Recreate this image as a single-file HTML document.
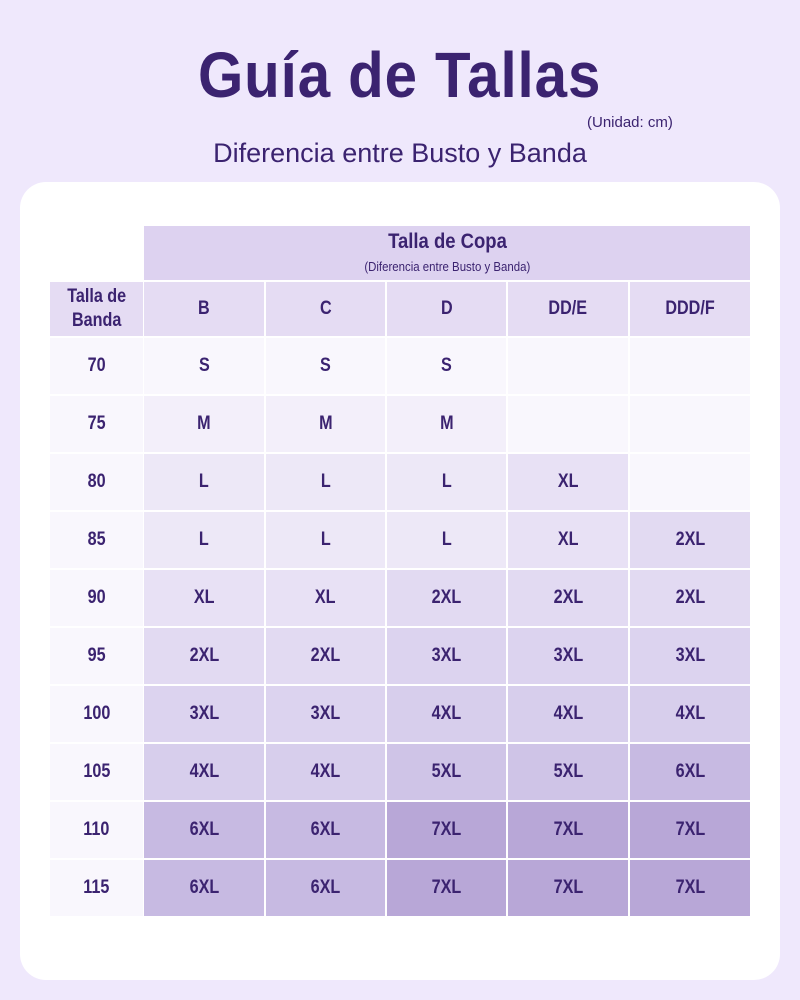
<!DOCTYPE html>
<html><head><meta charset="utf-8"><style>
body{margin:0;width:800px;height:1000px;background:#efe8fc;font-family:"Liberation Sans",sans-serif;color:#3b2370;position:relative;overflow:hidden}
.a{position:absolute}
.t{position:absolute;left:0;width:800px;text-align:center}
.card{left:20px;top:182px;width:760px;height:798px;background:#fff;border-radius:26px}
.c{position:absolute;display:flex;align-items:center;justify-content:center;font-size:19px;font-weight:bold;}
.c span{display:inline-block;transform:scaleX(0.85)}
</style></head><body>
<div class="t" style="top:38px;font-size:64px;font-weight:bold;letter-spacing:1px"><span style="display:inline-block;transform:scaleX(0.91)">Guía de Tallas</span></div>
<div class="a" style="left:587px;top:114px;font-size:15px">(Unidad: cm)</div>
<div class="t" style="top:138px;font-size:27px">Diferencia entre Busto y Banda</div>
<div class="a card"></div>
<div class="a" style="left:144px;top:226px;width:606px;height:54px;background:#ddd2f0"></div>
<div class="t" style="left:144px;width:606px;top:230px;font-size:21px;font-weight:bold"><span style="display:inline-block;transform:scaleX(0.88)">Talla de Copa</span></div>
<div class="t" style="left:144px;width:606px;top:259px;font-size:13px"><span style="display:inline-block;transform:scaleX(0.88)">(Diferencia entre Busto y Banda)</span></div>
<div id="g"></div>
<script>
var xs=[[50,93],[144,120],[266,119],[387,119],[508,120],[630,120]];
var rows=[["Talla de<br>Banda","B","C","D","DD/E","DDD/F"],
["70","S","S","S","",""],["75","M","M","M","",""],["80","L","L","L","XL",""],
["85","L","L","L","XL","2XL"],["90","XL","XL","2XL","2XL","2XL"],["95","2XL","2XL","3XL","3XL","3XL"],
["100","3XL","3XL","4XL","4XL","4XL"],["105","4XL","4XL","5XL","5XL","6XL"],
["110","6XL","6XL","7XL","7XL","7XL"],["115","6XL","6XL","7XL","7XL","7XL"]];
var col={"":"#f9f7fd","S":"#f9f7fd","M":"#f3effa","L":"#ede8f7","XL":"#e8e1f5","2XL":"#e2daf2","3XL":"#dcd3ef","4XL":"#d7ceec","5XL":"#cfc4e7","6XL":"#c7bae2","7XL":"#b8a7d7"};
var h="";
for(var r=0;r<rows.length;r++){
 var y=r==0?282:338+58*(r-1);
 for(var c=0;c<6;c++){
  var v=rows[r][c];var bg;
  if(r==0) bg="#e5dcf3";
  else if(c==0) bg="#f9f7fd"; else bg=col[v];
  if(r==0&&c==0) h+='<div class="c" style="left:50px;top:282px;width:93px;height:54px;background:'+bg+';line-height:24px;text-align:center;font-size:19px"><span>'+v+'</span></div>';
  else h+='<div class="c" style="left:'+xs[c][0]+'px;top:'+y+'px;width:'+xs[c][1]+'px;height:'+(r==0?54:56)+'px;background:'+bg+'"><span>'+v+'</span></div>';
 }
}
document.getElementById("g").innerHTML=h;
</script>
</body></html>
